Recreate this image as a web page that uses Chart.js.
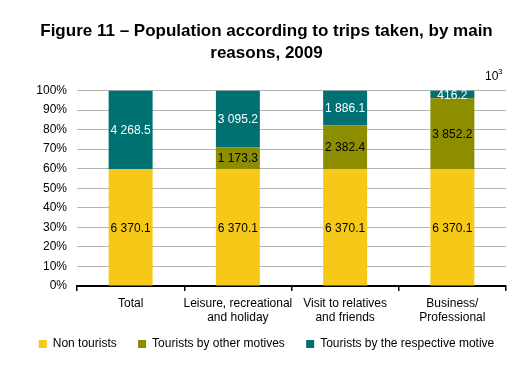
<!DOCTYPE html>
<html>
<head>
<meta charset="utf-8">
<script src="https://cdn.jsdelivr.net/npm/chart.js@4/dist/chart.umd.min.js"></script>
<style>
  html, body { margin: 0; padding: 0; background: #fff; }
  #wrap { width: 523px; height: 365px; }
</style>
</head>
<body>
<div id="wrap"><canvas id="chart" width="523" height="365"></canvas></div>
<script>
const categories = ["Total", ["Leisure, recreational", "and holiday"], ["Visit to relatives", "and friends"], ["Business/", "Professional"]];
const nonTourists = [6370.1, 6370.1, 6370.1, 6370.1];
const otherMotives = [0, 1173.3, 2382.4, 3852.2];
const respectiveMotive = [4268.5, 3095.2, 1886.1, 416.2];
const yTicks = [0, 10, 20, 30, 40, 50, 60, 70, 80, 90, 100];

const FONT = "'Liberation Sans', Arial, sans-serif";

// share of each bar (100% stacked)
function share(arr) {
  return arr.map((v, i) => v / (nonTourists[i] + otherMotives[i] + respectiveMotive[i]) * 100);
}

function fmt(v) {
  const parts = v.toFixed(1).split(".");
  return parts[0].replace(/\B(?=(\d{3})+(?!\d))/g, " ") + "." + parts[1];
}

const rawValues = [nonTourists, otherMotives, respectiveMotive];
const labelColors = ["#000", "#000", "#fff"];

const valueLabels = {
  id: "valueLabels",
  afterDatasetsDraw(chart) {
    const ctx = chart.ctx;
    ctx.save();
    ctx.font = "12px " + FONT;
    ctx.textAlign = "center";
    ctx.textBaseline = "middle";
    chart.data.datasets.forEach((ds, di) => {
      const meta = chart.getDatasetMeta(di);
      meta.data.forEach((bar, i) => {
        const v = rawValues[di][i];
        if (!v) return;
        const y = (bar.y + bar.base) / 2;
        ctx.fillStyle = labelColors[di];
        ctx.fillText(fmt(v), bar.x, y + 1);
      });
    });
    // unit mark
    ctx.fillStyle = "#000";
    ctx.textAlign = "left";
    ctx.textBaseline = "alphabetic";
    ctx.fillText("10", 485, 80);
    ctx.font = "8px " + FONT;
    ctx.fillText("3", 498, 74);
    ctx.restore();
  }
};

new Chart(document.getElementById("chart"), {
  type: "bar",
  data: {
    labels: categories,
    datasets: [
      { label: "Non tourists", data: share(nonTourists), backgroundColor: "#F6C918" },
      { label: "Tourists by other motives", data: share(otherMotives), backgroundColor: "#8C8E00" },
      { label: "Tourists by the respective motive", data: share(respectiveMotive), backgroundColor: "#007172" }
    ]
  },
  options: {
    responsive: false,
    animation: false,
    layout: { padding: { left: 10, right: 0, top: 0, bottom: 5 } },
    datasets: { bar: { categoryPercentage: 1, barPercentage: 0.41 } },
    plugins: {
      title: {
        display: true,
        text: ["Figure 11 \u2013 Population according to trips taken, by main", "reasons, 2009"],
        color: "#000",
        font: { family: FONT, size: 17, weight: "bold", lineHeight: 1.25 },
        padding: { top: 21, bottom: 27 }
      },
      legend: {
        position: "bottom",
        labels: {
          color: "#000",
          font: { family: FONT, size: 12 },
          boxWidth: 8,
          boxHeight: 8,
          padding: 8,
          // widen the gap between entries without making the legend taller
          generateLabels(chart) {
            const items = Chart.defaults.plugins.legend.labels.generateLabels(chart);
            items.forEach((it, i) => { if (i < items.length - 1) it.text += "    "; });
            return items;
          }
        }
      },
      tooltip: { enabled: false }
    },
    scales: {
      x: {
        stacked: true,
        grid: { display: true, offset: true, drawOnChartArea: false, color: "#000", tickLength: 5, lineWidth: 1.5 },
        border: { display: true, color: "#000", width: 2 },
        ticks: { color: "#000", font: { family: FONT, size: 12, lineHeight: 1.15 }, padding: 6, maxRotation: 0, autoSkip: false },
        afterFit(s) { s.height = 44; s.paddingRight = 17; }
      },
      y: {
        stacked: true,
        min: 0,
        max: 100,
        afterBuildTicks(s) { s.ticks = yTicks.map(v => ({ value: v })); },
        grid: { color: "#b4b4b4", lineWidth: 1, drawTicks: false },
        border: { display: false },
        ticks: { color: "#000", font: { family: FONT, size: 12 }, padding: 10, autoSkip: false, callback: v => v + "%" },
        afterFit(s) { s.width = 67; }
      }
    }
  },
  plugins: [valueLabels]
});
</script>
</body>
</html>
